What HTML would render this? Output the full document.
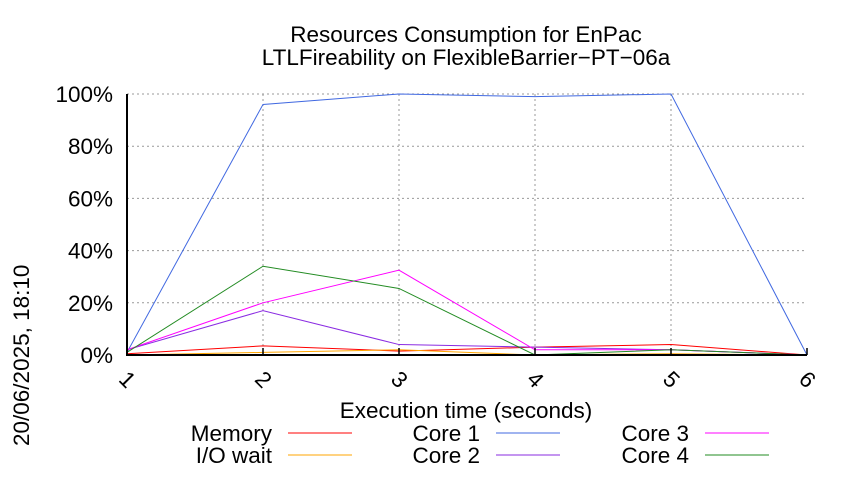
<!DOCTYPE html>
<html><head><meta charset="utf-8"><style>
body{margin:0;background:#fff;}
svg{font-family:"Liberation Sans",sans-serif;}
</style></head><body>
<svg id="chart" width="850" height="475" viewBox="0 0 850 475">
<text x="466" y="42" text-anchor="middle" font-size="22.5">Resources Consumption for EnPac</text>
<text x="466" y="65" text-anchor="middle" font-size="22.5">LTLFireability on FlexibleBarrier−PT−06a</text>
<text transform="translate(29,446) rotate(-90)" font-size="22.5">20/06/2025, 18:10</text>
<text x="466" y="418" text-anchor="middle" font-size="22.5">Execution time (seconds)</text>
<g id="grid"></g><g id="series"></g><g id="axes"></g>
<g id="legend"></g>
</svg>
<script>
const xCats=[1,2,3,4,5,6];
const yTicks=[0,20,40,60,80,100];
const memory=[0.5,3.5,1.5,3,4,0];
const ioWait=[0,1,2,0,0.5,0];
const core1=[1,96,100,99,100,0];
const core2=[2,17,4,3,2,0];
const core3=[2,20,32.5,2,2,0];
const core4=[1,34,25.5,0,2,0];
const names=["Memory","I/O wait","Core 1","Core 2","Core 3","Core 4"];
const colors=["#ff0000","#ffa500","#4169e1","#8a2be2","#ff00ff","#228b22"];
const data=[memory,ioWait,core1,core2,core3,core4];
const NS="http://www.w3.org/2000/svg";
const X0=127,X1=807,Y0=355,Y1=94;
const xs=v=>X0+(v-1)*(X1-X0)/5;
const ys=v=>Y0-v*(Y0-Y1)/100;
function mk(t,a,p){const e=document.createElementNS(NS,t);for(const k in a)e.setAttribute(k,a[k]);p.appendChild(e);return e;}
const grid=document.getElementById('grid'),axes=document.getElementById('axes'),ser=document.getElementById('series'),leg=document.getElementById('legend');
yTicks.forEach(t=>{
 const l=mk('line',{x1:X0,x2:X1,y1:ys(t),y2:ys(t),stroke:'#999','stroke-dasharray':'2,3','stroke-width':1},grid);
 
 
 const tx=mk('text',{x:X0-14,y:ys(t)+8,'text-anchor':'end','font-size':22.5},axes);
 tx.textContent=t+'%';
 
 
});
xCats.forEach(c=>{
 const x=xs(c);
 if(c>1&&c<6){const l=mk('line',{x1:x,x2:x,y1:Y1,y2:Y0,stroke:'#999','stroke-dasharray':'2,3'},grid);
 
 }
 const tk=mk('line',{x1:x,x2:x,y1:Y0,y2:Y0-7,stroke:'#000','stroke-width':1.5},axes);
 
 
 const tx=mk('text',{x:x,y:Y0+32,'text-anchor':'middle','font-size':22.5,transform:`rotate(45 ${x} ${Y0+25})`},axes);
 tx.textContent=c;
 
 
});
const ax=mk('path',{d:`M${X0} ${Y1}V${Y0}H${X1}`,fill:'none',stroke:'#000','stroke-width':2},axes);


data.forEach((arr,i)=>{
 const p=mk('polyline',{points:arr.map((v,j)=>xs(xCats[j])+','+ys(v)).join(' '),fill:'none',stroke:colors[i],'stroke-width':1},ser);
 
 
});
const lx=[272,272,480,480,689,689],ly=[433,455,433,455,433,455];
names.forEach((n,i)=>{
 const g=mk('g',{},leg);
 
 
 const t=mk('text',{x:lx[i],y:ly[i]+8,'text-anchor':'end','font-size':22.5},g);t.textContent=n;
 mk('line',{x1:lx[i]+16,x2:lx[i]+80,y1:ly[i],y2:ly[i],stroke:colors[i],'stroke-width':1},g);
});
</script>
</body></html>
